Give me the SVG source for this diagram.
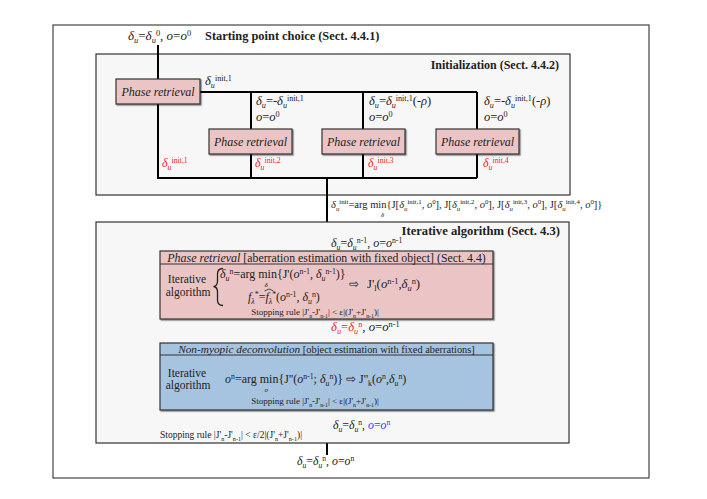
<svg xmlns="http://www.w3.org/2000/svg" width="707" height="499" viewBox="0 0 707 499" font-size="12">
<style>
text{font-family:"Liberation Serif","Times New Roman",serif;fill:#222}
.b{font-weight:bold}
.i{font-style:italic}
.sb{font-size:65%;baseline-shift:-3px;font-style:italic}
.sp{font-size:65%;baseline-shift:4.5px}
.sn{font-size:65%;baseline-shift:-2.5px}
.red{fill:#ff2424}
.blu{fill:#3a3aff}
.frame{fill:#fff;stroke:#444;stroke-width:1.2}
.sec{fill:#f7f7f7;stroke:#333;stroke-width:1.2}
.pk{fill:#ebc5c5;stroke:#333;stroke-width:1.2}
.bl{fill:#a6c3e0;stroke:#333;stroke-width:1.2}
.ln{fill:none;stroke:#000;stroke-width:2}
</style>
<defs>
<filter id="sh" x="-5%" y="-5%" width="110%" height="120%">
<feDropShadow dx="1.2" dy="1.2" stdDeviation="0.6" flood-color="#000" flood-opacity="0.45"/>
</filter>
</defs>
<rect width="707" height="499" fill="#fff"/>
<rect id="frame" class="frame" x="53" y="25" width="596" height="453"/>

<g id="start">
<text x="128" y="40" font-size="13"><tspan class="i">δ</tspan><tspan class="sb">u</tspan>=<tspan class="i">δ</tspan><tspan class="sb">u</tspan><tspan class="sp">0</tspan>, <tspan class="i">o</tspan>=<tspan class="i">o</tspan><tspan class="sp">0</tspan></text>
<text x="205" y="40" class="b" font-size="12.4">Starting point choice (Sect. 4.4.1)</text>
</g>

<g id="init">
<rect class="sec" x="96" y="54" width="474" height="141"/>
<text x="559" y="69" class="b" text-anchor="end" font-size="12">Initialization (Sect. 4.4.2)</text>
</g>

<g id="connectors">
<path class="ln" d="M158 45V79"/>
<path class="ln" d="M200 92H477M251 92V129M363 92V129M477 92V129"/>
<path class="ln" d="M158 104V178H477M251 154V178M363 154V178M477 154V178"/>
<path class="ln" d="M327 178V455"/>
</g>

<g id="pr1">
<rect class="pk" filter="url(#sh)" x="116" y="79" width="84" height="25"/>
<text x="158" y="95.5" class="i" text-anchor="middle">Phase retrieval</text>
</g>
<g id="pr2">
<rect class="pk" filter="url(#sh)" x="209" y="129" width="83" height="25"/>
<text x="250.5" y="145.5" class="i" text-anchor="middle">Phase retrieval</text>
</g>
<g id="pr3">
<rect class="pk" filter="url(#sh)" x="322" y="129" width="83" height="25"/>
<text x="363.5" y="145.5" class="i" text-anchor="middle">Phase retrieval</text>
</g>
<g id="pr4">
<rect class="pk" filter="url(#sh)" x="436" y="129" width="83" height="25"/>
<text x="477.5" y="145.5" class="i" text-anchor="middle">Phase retrieval</text>
</g>

<g id="init-labels">
<text x="205" y="85" font-size="12.5"><tspan class="i">δ</tspan><tspan class="sb">u</tspan><tspan class="sp">init,1</tspan></text>
<text x="256" y="105" font-size="12.5"><tspan class="i">δ</tspan><tspan class="sb">u</tspan>=-<tspan class="i">δ</tspan><tspan class="sb">u</tspan><tspan class="sp">init,1</tspan></text>
<text x="256" y="121" font-size="12.5"><tspan class="i">o</tspan>=<tspan class="i">o</tspan><tspan class="sp">0</tspan></text>
<text x="369" y="105" font-size="12.5"><tspan class="i">δ</tspan><tspan class="sb">u</tspan>=<tspan class="i">δ</tspan><tspan class="sb">u</tspan><tspan class="sp">init,1</tspan>(-<tspan class="i">ρ</tspan>)</text>
<text x="369" y="121" font-size="12.5"><tspan class="i">o</tspan>=<tspan class="i">o</tspan><tspan class="sp">0</tspan></text>
<text x="484" y="105" font-size="12.5"><tspan class="i">δ</tspan><tspan class="sb">u</tspan>=-<tspan class="i">δ</tspan><tspan class="sb">u</tspan><tspan class="sp">init,1</tspan>(-<tspan class="i">ρ</tspan>)</text>
<text x="484" y="121" font-size="12.5"><tspan class="i">o</tspan>=<tspan class="i">o</tspan><tspan class="sp">0</tspan></text>
<text x="162" y="167" class="red"><tspan class="i">δ</tspan><tspan class="sb">u</tspan><tspan class="sp">init,1</tspan></text>
<text x="255" y="167" class="red"><tspan class="i">δ</tspan><tspan class="sb">u</tspan><tspan class="sp">init,2</tspan></text>
<text x="368" y="167" class="red"><tspan class="i">δ</tspan><tspan class="sb">u</tspan><tspan class="sp">init,3</tspan></text>
<text x="483" y="167" class="red"><tspan class="i">δ</tspan><tspan class="sb">u</tspan><tspan class="sp">init,4</tspan></text>
</g>

<g id="argmin">
<text x="331" y="208" font-size="10.5"><tspan class="i">δ</tspan><tspan class="sb">u</tspan><tspan class="sp">init</tspan>=arg min{J[<tspan class="i">δ</tspan><tspan class="sb">u</tspan><tspan class="sp">init,1</tspan>, <tspan class="i">o</tspan><tspan class="sp">0</tspan>], J[<tspan class="i">δ</tspan><tspan class="sb">u</tspan><tspan class="sp">init,2</tspan>, <tspan class="i">o</tspan><tspan class="sp">0</tspan>], J[<tspan class="i">δ</tspan><tspan class="sb">u</tspan><tspan class="sp">init,3</tspan>, <tspan class="i">o</tspan><tspan class="sp">0</tspan>], J[<tspan class="i">δ</tspan><tspan class="sb">u</tspan><tspan class="sp">init,4</tspan>, <tspan class="i">o</tspan><tspan class="sp">0</tspan>]}</text>
<text x="381" y="216.5" font-size="6.5" class="i">δ</text>
</g>

<g id="iter">
<rect class="sec" x="96" y="222" width="473" height="221"/>
<text x="560" y="235" class="b" text-anchor="end" font-size="12.6">Iterative algorithm (Sect.  4.3)</text>
<text x="331" y="246.5" font-size="12"><tspan class="i">δ</tspan><tspan class="sb">u</tspan>=<tspan class="i">δ</tspan><tspan class="sb">u</tspan><tspan class="sp">n-1</tspan>, <tspan class="i">o</tspan>=<tspan class="i">o</tspan><tspan class="sp">n-1</tspan></text>
</g>

<g id="phase-retrieval">
<rect class="pk" filter="url(#sh)" x="160" y="251" width="333" height="68"/>
<line x1="160" y1="264" x2="493" y2="264" stroke="#333" stroke-width="1.2"/>
<text x="326.5" y="262" text-anchor="middle" font-size="11.8"><tspan class="i" font-size="12">Phase retrieval</tspan> [aberration estimation with fixed object] (Sect. 4.4)</text>
<text x="187" y="283" text-anchor="middle" font-size="11.5">Iterative</text>
<text x="188" y="296" text-anchor="middle" font-size="11.5">algorithm</text>
<path d="M223 268.5 Q217.5 268.5 217.5 274 V281 Q217.5 286 213.5 286.5 Q217.5 287 217.5 292 V300 Q217.5 305.5 223 305.5" fill="none" stroke="#222" stroke-width="1.3"/>
<text x="220" y="278"><tspan class="i">δ</tspan><tspan class="sb">u</tspan><tspan class="sp">n</tspan>=arg min{J'(<tspan class="i">o</tspan><tspan class="sp">n-1</tspan>, <tspan class="i">δ</tspan><tspan class="sb">u</tspan><tspan class="sp">n-1</tspan>)}</text>
<text x="264.5" y="287" font-size="7" class="i">δ</text>
<text x="248" y="301"><tspan class="i">f</tspan><tspan class="sb">λ</tspan><tspan class="sp">*</tspan>=<tspan class="i">f</tspan><tspan class="sb">λ</tspan><tspan class="sp">*</tspan>(<tspan class="i">o</tspan><tspan class="sp">n-1</tspan>, <tspan class="i">δ</tspan><tspan class="sb">u</tspan><tspan class="sp">n</tspan>)</text>
<path d="M264.5 291 L269 289 L273.5 291" fill="none" stroke="#222" stroke-width="0.8"/>
<text x="349" y="288">⇨</text>
<text x="367" y="288" font-size="12.8">J'<tspan class="sn">l</tspan>(<tspan class="i">o</tspan><tspan class="sp">n-1</tspan>,<tspan class="i">δ</tspan><tspan class="sb">u</tspan><tspan class="sp">n</tspan>)</text>
<text x="315" y="315" text-anchor="middle" font-size="9">Stopping rule |J'<tspan class="sn">n</tspan>-J'<tspan class="sn">n-1</tspan>| &lt; ε|(J'<tspan class="sn">n</tspan>+J'<tspan class="sn">n-1</tspan>)|</text>
</g>

<g id="mid-label">
<text x="331" y="331" font-size="12.7"><tspan class="red"><tspan class="i">δ</tspan><tspan class="sb">u</tspan>=<tspan class="i">δ</tspan><tspan class="sb">u</tspan><tspan class="sp">n</tspan></tspan>, <tspan class="i">o</tspan>=<tspan class="i">o</tspan><tspan class="sp">n-1</tspan></text>
</g>

<g id="deconvolution">
<rect class="bl" filter="url(#sh)" x="160" y="343" width="333" height="67"/>
<line x1="160" y1="355" x2="493" y2="355" stroke="#333" stroke-width="1.2"/>
<text x="326.5" y="353" text-anchor="middle" font-size="10.4"><tspan class="i" font-size="11.3">Non-myopic deconvolution</tspan> [object estimation with fixed aberrations]</text>
<text x="187" y="377" text-anchor="middle" font-size="11.5">Iterative</text>
<text x="188" y="389" text-anchor="middle" font-size="11.5">algorithm</text>
<text x="225" y="383"><tspan class="i">o</tspan><tspan class="sp">n</tspan>=arg min{J''(<tspan class="i">o</tspan><tspan class="sp">n-1</tspan>; <tspan class="i">δ</tspan><tspan class="sb">u</tspan><tspan class="sp">n</tspan>)}  ⇨  J''<tspan class="sn">k</tspan>(<tspan class="i">o</tspan><tspan class="sp">n</tspan>,<tspan class="i">δ</tspan><tspan class="sb">u</tspan><tspan class="sp">n</tspan>)</text>
<text x="264.5" y="392" font-size="7" class="i">o</text>
<text x="315" y="404" text-anchor="middle" font-size="9">Stopping rule |J'<tspan class="sn">n</tspan>-J'<tspan class="sn">n-1</tspan>| &lt; ε|(J'<tspan class="sn">n</tspan>+J'<tspan class="sn">n-1</tspan>)|</text>
</g>

<g id="bottom-labels">
<text x="333" y="429" font-size="11.8"><tspan class="i">δ</tspan><tspan class="sb">u</tspan>=<tspan class="i">δ</tspan><tspan class="sb">u</tspan><tspan class="sp">n</tspan>, <tspan class="blu"><tspan class="i">o</tspan>=<tspan class="i">o</tspan><tspan class="sp">n</tspan></tspan></text>
<text x="160" y="438" font-size="9.5">Stopping rule |J'<tspan class="sn">n</tspan>-J'<tspan class="sn">n-1</tspan>| &lt; ε/2|(J'<tspan class="sn">n</tspan>+J'<tspan class="sn">n-1</tspan>)|</text>
<text x="297" y="465" font-size="11.8"><tspan class="i">δ</tspan><tspan class="sb">u</tspan>=<tspan class="i">δ</tspan><tspan class="sb">u</tspan><tspan class="sp">n</tspan>, <tspan class="i">o</tspan>=<tspan class="i">o</tspan><tspan class="sp">n</tspan></text>
</g>
</svg>
